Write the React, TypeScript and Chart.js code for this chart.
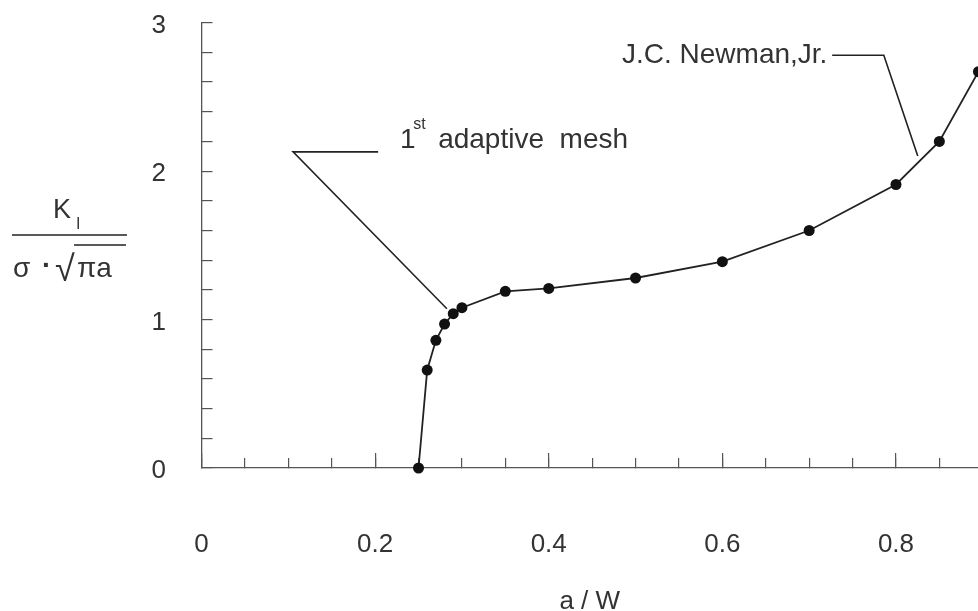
import React, { useEffect, useRef } from "react";
import { Chart, registerables } from "chart.js";

Chart.register(...registerables);

// ---- data ----
const aOverW = [0.25, 0.26, 0.27, 0.28, 0.29, 0.3, 0.35, 0.4, 0.5, 0.6, 0.7, 0.8, 0.85, 0.895];
const kNormalized = [0, 0.66, 0.86, 0.97, 1.04, 1.08, 1.19, 1.21, 1.28, 1.39, 1.6, 1.91, 2.2, 2.67];
const xAxisTitle = "a / W";
const meshLabel = ["1", "st", "adaptive  mesh"];
const newmanLabel = "J.C. Newman,Jr.";

const FONT = '"Liberation Sans", Arial, Helvetica, sans-serif';
const TEXT = "#333";
const INK = "#222";

const isInt = (v: number) => Math.abs(v - Math.round(v)) < 1e-6;

const zeroPad = (s: any) => {
  s.paddingTop = 0;
  s.paddingBottom = 0;
  s.paddingLeft = 0;
  s.paddingRight = 0;
};

const annotations = {
  id: "annotations",
  afterDraw(chart: any) {
    const { ctx } = chart;
    const xs = chart.scales.x;
    const ys = chart.scales.y;
    const px = (v: number) => xs.getPixelForValue(v);
    const py = (v: number) => ys.getPixelForValue(v);
    ctx.save();
    ctx.strokeStyle = INK;
    ctx.lineWidth = 1.6;
    // leader for "1st adaptive mesh"
    ctx.beginPath();
    ctx.moveTo(px(0.2035), py(2.13));
    ctx.lineTo(px(0.1055), py(2.13));
    ctx.lineTo(px(0.2827), py(1.073));
    ctx.stroke();
    // leader for Newman
    ctx.beginPath();
    ctx.moveTo(px(0.7265), py(2.781));
    ctx.lineTo(px(0.786), py(2.781));
    ctx.lineTo(px(0.8251), py(2.1025));
    ctx.stroke();

    ctx.fillStyle = TEXT;
    ctx.textBaseline = "alphabetic";
    ctx.textAlign = "left";
    ctx.font = `28px ${FONT}`;
    ctx.fillText(meshLabel[0], px(0.2288), py(2.159));
    ctx.fillText(meshLabel[2], px(0.2726), py(2.159));
    ctx.font = `16px ${FONT}`;
    ctx.fillText(meshLabel[1], px(0.2438), py(2.285));
    ctx.font = `28px ${FONT}`;
    ctx.textAlign = "right";
    ctx.fillText(newmanLabel, px(0.721), py(2.731));

    // y-axis title as a fraction
    ctx.textAlign = "left";
    ctx.font = `27px ${FONT}`;
    ctx.fillText("K", 53, 218);
    ctx.font = `16px ${FONT}`;
    ctx.fillText("I", 76, 229);
    ctx.lineWidth = 1.4;
    ctx.beginPath();
    ctx.moveTo(12, 235);
    ctx.lineTo(127, 235);
    ctx.stroke();
    ctx.font = `28px ${FONT}`;
    ctx.fillText("σ", 13, 277);
    ctx.font = `bold 28px ${FONT}`;
    ctx.fillText("·", 42, 274);
    ctx.font = `36px ${FONT}`;
    ctx.fillText("√", 55, 281);
    ctx.beginPath();
    ctx.moveTo(74, 245);
    ctx.lineTo(126, 245);
    ctx.stroke();
    ctx.font = `28px ${FONT}`;
    ctx.fillText("πa", 77, 277);
    ctx.restore();
  },
};

export default function App() {
  const ref = useRef<HTMLCanvasElement | null>(null);

  useEffect(() => {
    if (!ref.current) return;
    const points = aOverW.map((x, i) => ({ x, y: kNormalized[i] }));
    const chart = new Chart(ref.current, {
      type: "line",
      data: {
        datasets: [
          {
            data: points,
            borderColor: INK,
            borderWidth: 1.8,
            pointRadius: 5.5,
            pointBackgroundColor: "#111",
            pointBorderColor: "#111",
            pointBorderWidth: 0,
            tension: 0,
            clip: false,
            xAxisID: "x",
            yAxisID: "y",
          },
        ],
      },
      options: {
        animation: false,
        responsive: false,
        devicePixelRatio: 1,
        layout: { autoPadding: false, padding: { top: 22.7, left: 0, right: 0, bottom: 0 } },
        plugins: { legend: { display: false }, tooltip: { enabled: false } },
        scales: {
          x: {
            type: "linear",
            position: "bottom",
            weight: 0,
            min: 0,
            max: 0.8945,
            ticks: { stepSize: 0.05, includeBounds: false, autoSkip: false, callback: () => "" },
            grid: { drawOnChartArea: false, tickLength: -10, color: "#555", lineWidth: 1.2 },
            border: { display: true, color: "#555", width: 1.3 },
            afterFit: (s: any) => {
              s.height = 0;
              zeroPad(s);
            },
          },
          x2: {
            type: "linear",
            axis: "x",
            position: "bottom",
            weight: 1,
            min: 0,
            max: 0.8945,
            ticks: {
              stepSize: 0.2,
              includeBounds: false,
              autoSkip: false,
              maxRotation: 0,
              padding: 76,
              color: TEXT,
              font: { family: FONT, size: 26 },
              callback: (v: any) => (Math.abs(v) < 1e-9 ? "0" : Number(v).toFixed(1)),
            },
            grid: { drawOnChartArea: false, tickLength: -15, color: "#555", lineWidth: 1.2 },
            border: { display: false },
            title: {
              display: true,
              text: xAxisTitle,
              color: TEXT,
              font: { family: FONT, size: 26 },
              padding: { top: 0, bottom: -6 },
            },
            afterFit: (s: any) => {
              s.height = 143;
              zeroPad(s);
            },
          },
          y: {
            type: "linear",
            position: "left",
            min: 0,
            max: 3,
            ticks: {
              stepSize: 0.2,
              includeBounds: false,
              autoSkip: false,
              padding: 46.5,
              labelOffset: 3,
              color: TEXT,
              font: { family: FONT, size: 26 },
              callback: (v: any) => (isInt(Number(v)) ? String(Math.round(Number(v))) : ""),
            },
            grid: { drawOnChartArea: false, tickLength: -11, color: "#555", lineWidth: 1.2 },
            border: { display: true, color: "#555", width: 1.3 },
            afterFit: (s: any) => {
              s.width = 201.5;
              zeroPad(s);
            },
          },
        },
      },
      plugins: [annotations],
    });
    return () => chart.destroy();
  }, []);

  return (
    <div style={{ position: "absolute", left: 0, top: 0, width: 978, height: 611, background: "#fff" }}>
      <canvas ref={ref} width={978} height={611} />
    </div>
  );
}
